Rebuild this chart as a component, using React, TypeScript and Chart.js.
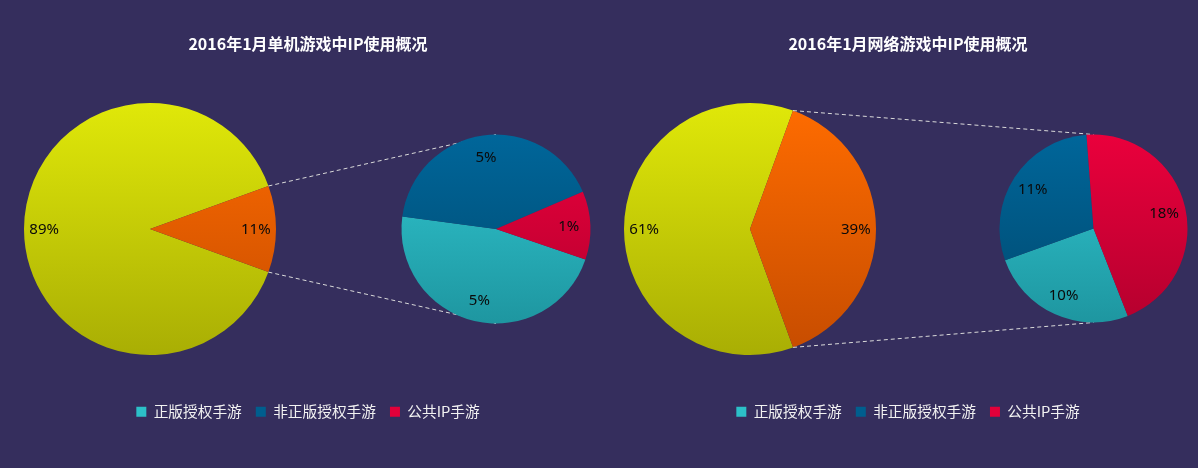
import React, { useEffect, useRef } from 'react';
import { Chart, registerables } from 'chart.js';

Chart.register(...registerables);

// ---------- data ----------
const leftTitle = '2016年1月单机游戏中IP使用概况';
const rightTitle = '2016年1月网络游戏中IP使用概况';

const primaryLabels = ['非IP手游', 'IP手游'];
const leftPrimaryValues = [88.9, 11.1];
const rightPrimaryValues = [61.1, 38.9];

const secondaryLabels = ['正版授权手游', '非正版授权手游', '公共IP手游'];
const leftSecondaryValues = [5.2, 4.6, 1.3];
const rightSecondaryValues = [9.9, 11.4, 17.6];

// ---------- styles ----------
const BG = '#352e5d';
const CJK = "'Noto Sans CJK SC', 'Noto Sans', sans-serif";
const primaryColors = [
  ['#e0e809', '#a9ae04'],
  ['#ff6c00', '#c64c00'],
];
const secondaryColors = [
  ['#31c8d2', '#1e96a0'],
  ['#00669a', '#004a70'],
  ['#ea003c', '#b5002e'],
];
const legendColors = ['#2cc0c8', '#005e8e', '#e2003a'];

type Box = { left: number; top: number; size: number };

const placeArea = (box: Box) => ({
  id: 'placeArea',
  afterLayout(chart: any) {
    chart.chartArea = {
      left: box.left,
      top: box.top,
      right: box.left + box.size,
      bottom: box.top + box.size,
      width: box.size,
      height: box.size,
    };
  },
});

const gradientFill = (colors: string[][]) => (c: any) => {
  const pair = colors[c.dataIndex % colors.length];
  const ch = c.chart;
  const a = ch.chartArea;
  if (!a) return pair[0];
  const g = ch.ctx.createLinearGradient(0, a.top, 0, a.bottom);
  g.addColorStop(0, pair[0]);
  g.addColorStop(1, pair[1]);
  return g;
};

const sliceLabels = (factor: number) => ({
  id: 'sliceLabels',
  afterDatasetsDraw(chart: any) {
    const meta = chart.getDatasetMeta(0);
    const ds = chart.data.datasets[0];
    const ctx = chart.ctx;
    ctx.save();
    ctx.font = "15px 'Noto Sans', sans-serif";
    ctx.fillStyle = '#0a0a0a';
    ctx.textAlign = 'center';
    ctx.textBaseline = 'middle';
    meta.data.forEach((arc: any, i: number) => {
      const p = arc.getProps(['x', 'y', 'startAngle', 'endAngle', 'outerRadius'], true);
      const mid = (p.startAngle + p.endAngle) / 2;
      const r = p.outerRadius * factor;
      ctx.fillText(Math.round(ds.data[i]) + '%', p.x + Math.cos(mid) * r, p.y + Math.sin(mid) * r + 1);
    });
    ctx.restore();
  },
});

const connectors = (getSecondary: () => any) => ({
  id: 'connectors',
  afterDatasetsDraw(chart: any) {
    const sec = getSecondary();
    if (!sec) return;
    const arc = chart.getDatasetMeta(0).data[1];
    const sArc = sec.getDatasetMeta(0).data[0];
    if (!arc || !sArc) return;
    const p = arc.getProps(['x', 'y', 'startAngle', 'endAngle', 'outerRadius'], true);
    const s = sArc.getProps(['x', 'y', 'outerRadius'], true);
    const a = { x: p.x + Math.cos(p.startAngle) * p.outerRadius, y: p.y + Math.sin(p.startAngle) * p.outerRadius };
    const b = { x: p.x + Math.cos(p.endAngle) * p.outerRadius, y: p.y + Math.sin(p.endAngle) * p.outerRadius };
    const upper = a.y < b.y ? a : b;
    const lower = a.y < b.y ? b : a;
    const ctx = chart.ctx;
    ctx.save();
    ctx.strokeStyle = '#dadada';
    ctx.lineWidth = 1;
    ctx.setLineDash([4, 3]);
    ctx.beginPath();
    ctx.moveTo(upper.x, upper.y);
    ctx.lineTo(s.x, s.y - s.outerRadius);
    ctx.moveTo(lower.x, lower.y);
    ctx.lineTo(s.x, s.y + s.outerRadius);
    ctx.stroke();
    ctx.restore();
  },
});

type Props = {
  title: string;
  primary: number[];
  secondary: number[];
  primaryRotation: number;
  secondaryRotation: number;
  bigBox: Box;
  smallBox: Box;
  offsetX: number;
};

function PieOfPie(props: Props) {
  const aRef = useRef<HTMLCanvasElement>(null);
  const bRef = useRef<HTMLCanvasElement>(null);

  useEffect(() => {
    const chartB = new Chart(bRef.current as HTMLCanvasElement, {
      type: 'pie',
      data: {
        labels: secondaryLabels,
        datasets: [
          {
            data: props.secondary,
            backgroundColor: gradientFill(secondaryColors),
            borderWidth: 0,
            clip: false,
          } as any,
        ],
      },
      options: {
        responsive: false,
        animation: false,
        devicePixelRatio: 1,
        rotation: props.secondaryRotation,
        events: [],
        plugins: { legend: { display: false }, title: { display: false }, tooltip: { enabled: false } },
      },
      plugins: [placeArea(props.smallBox), sliceLabels(0.77)],
    });

    const chartA = new Chart(aRef.current as HTMLCanvasElement, {
      type: 'pie',
      data: {
        labels: primaryLabels,
        datasets: [
          {
            data: props.primary,
            backgroundColor: gradientFill(primaryColors),
            borderWidth: 0,
            clip: false,
          } as any,
        ],
      },
      options: {
        responsive: false,
        animation: false,
        devicePixelRatio: 1,
        rotation: props.primaryRotation,
        events: [],
        layout: { padding: { top: 0, bottom: 39, left: 16, right: 0 } },
        plugins: {
          tooltip: { enabled: false },
          title: {
            display: true,
            text: props.title,
            color: '#ffffff',
            font: { size: 16, weight: 'bold', family: CJK },
            padding: { top: 34, bottom: 10 },
          },
          legend: {
            display: true,
            position: 'bottom',
            labels: {
              color: '#f2f2f2',
              boxWidth: 10,
              boxHeight: 10,
              padding: 14,
              font: { size: 14.7, family: CJK },
              generateLabels: () =>
                secondaryLabels.map((t, i) => ({
                  text: t,
                  fillStyle: legendColors[i],
                  strokeStyle: legendColors[i],
                  lineWidth: 0,
                  hidden: false,
                  index: i,
                  fontColor: '#f2f2f2',
                })),
            },
          },
        },
      },
      plugins: [placeArea(props.bigBox), connectors(() => chartB), sliceLabels(0.84)],
    });

    return () => {
      chartA.destroy();
      chartB.destroy();
    };
  }, []);

  return (
    <div style={{ position: 'absolute', left: props.offsetX, top: 0, width: 600, height: 468 }}>
      <canvas ref={aRef} width={600} height={468} style={{ position: 'absolute', left: 0, top: 0 }} />
      <canvas ref={bRef} width={600} height={468} style={{ position: 'absolute', left: 0, top: 0 }} />
    </div>
  );
}

export default function App() {
  return (
    <div
      style={{
        position: 'fixed',
        left: 0,
        top: 0,
        width: 1198,
        height: 468,
        background: BG,
        overflow: 'hidden',
      }}
    >
      <PieOfPie
        title={leftTitle}
        primary={leftPrimaryValues}
        secondary={leftSecondaryValues}
        primaryRotation={110}
        secondaryRotation={108.9}
        bigBox={{ left: 24, top: 103, size: 252 }}
        smallBox={{ left: 401.5, top: 134.5, size: 189 }}
        offsetX={0}
      />
      <PieOfPie
        title={rightTitle}
        primary={rightPrimaryValues}
        secondary={rightSecondaryValues}
        primaryRotation={160}
        secondaryRotation={158.6}
        bigBox={{ left: 24, top: 103, size: 252 }}
        smallBox={{ left: 399.5, top: 134.5, size: 188 }}
        offsetX={600}
      />
    </div>
  );
}
